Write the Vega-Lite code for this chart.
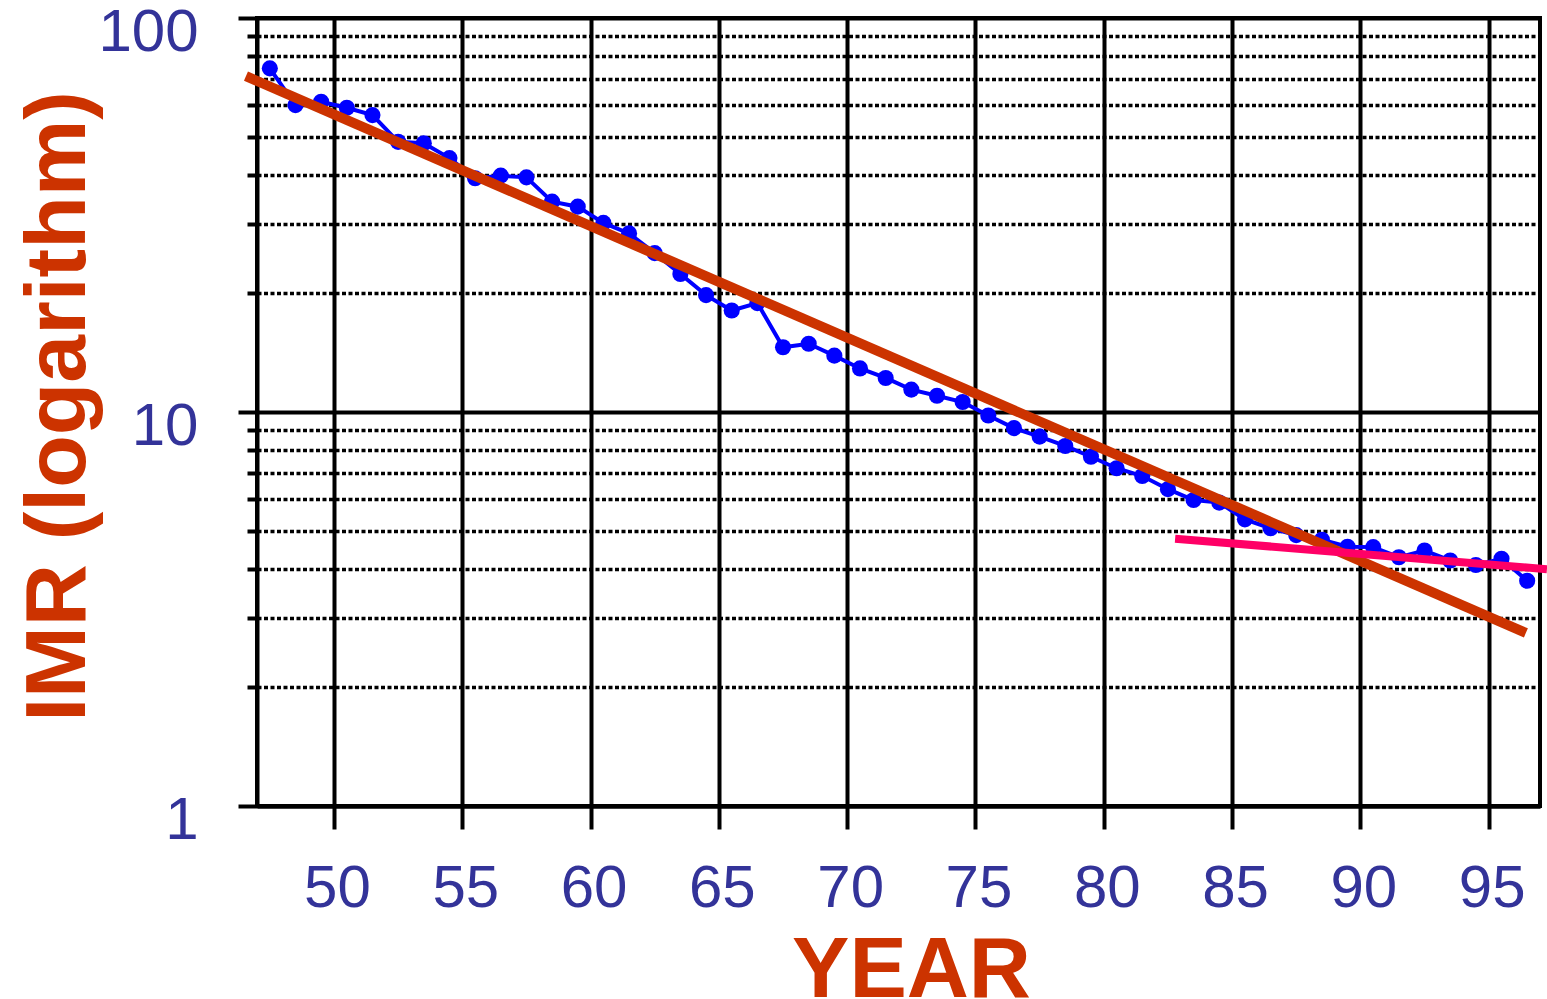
{
  "$schema": "https://vega.github.io/schema/vega-lite/v6.json",
  "width": 1283,
  "height": 788,
  "autosize": "none",
  "padding": {"left": 257, "top": 18, "right": 7, "bottom": 193},
  "background": "white",
  "config": {
    "view": {"stroke": "black", "strokeWidth": 4},
    "font": "Liberation Sans"
  },
  "datasets": {
    "imr": [
      {"year": 47.5, "imr": 74.5}, {"year": 48.5, "imr": 60.1}, {"year": 49.5, "imr": 61.3},
      {"year": 50.5, "imr": 59.2}, {"year": 51.5, "imr": 56.7}, {"year": 52.5, "imr": 48.5},
      {"year": 53.5, "imr": 48.1}, {"year": 54.5, "imr": 44.1}, {"year": 55.5, "imr": 39.2},
      {"year": 56.5, "imr": 39.8}, {"year": 57.5, "imr": 39.4}, {"year": 58.5, "imr": 34.2},
      {"year": 59.5, "imr": 33.2}, {"year": 60.5, "imr": 30.2}, {"year": 61.5, "imr": 28.4},
      {"year": 62.5, "imr": 25.3}, {"year": 63.5, "imr": 22.4}, {"year": 64.5, "imr": 19.8},
      {"year": 65.5, "imr": 18.1}, {"year": 66.5, "imr": 18.9}, {"year": 67.5, "imr": 14.6},
      {"year": 68.5, "imr": 14.9}, {"year": 69.5, "imr": 13.9}, {"year": 70.5, "imr": 12.9},
      {"year": 71.5, "imr": 12.2}, {"year": 72.5, "imr": 11.4}, {"year": 73.5, "imr": 11.0},
      {"year": 74.5, "imr": 10.6}, {"year": 75.5, "imr": 9.8}, {"year": 76.5, "imr": 9.1},
      {"year": 77.5, "imr": 8.66}, {"year": 78.5, "imr": 8.2}, {"year": 79.5, "imr": 7.7},
      {"year": 80.5, "imr": 7.2}, {"year": 81.5, "imr": 6.88}, {"year": 82.5, "imr": 6.37},
      {"year": 83.5, "imr": 5.98}, {"year": 84.5, "imr": 5.89}, {"year": 85.5, "imr": 5.34},
      {"year": 86.5, "imr": 5.07}, {"year": 87.5, "imr": 4.87}, {"year": 88.5, "imr": 4.74},
      {"year": 89.5, "imr": 4.55}, {"year": 90.5, "imr": 4.54}, {"year": 91.5, "imr": 4.28},
      {"year": 92.5, "imr": 4.45}, {"year": 93.5, "imr": 4.2}, {"year": 94.5, "imr": 4.09},
      {"year": 95.5, "imr": 4.24}, {"year": 96.5, "imr": 3.73}
    ],
    "trend": [
      {"year": 46.57, "imr": 71.2, "fit": "all"},
      {"year": 96.45, "imr": 2.75, "fit": "all"}
    ],
    "recent": [
      {"year": 82.78, "imr": 4.77, "fit": "recent"},
      {"year": 97.27, "imr": 3.99, "fit": "recent"}
    ]
  },
  "resolve": {"axis": {"y": "independent"}},
  "layer": [
    {
      "data": {"name": "imr"},
      "mark": {"type": "line", "color": "#0000FF", "strokeWidth": 4},
      "encoding": {
        "x": {
          "field": "year", "type": "quantitative",
          "scale": {"domain": [47, 97], "nice": false, "zero": false},
          "axis": {
            "values": [50, 55, 60, 65, 70, 75, 80, 85, 90, 95],
            "grid": true, "gridColor": "black", "gridWidth": 4, "gridOpacity": 1,
            "domain": true, "domainColor": "black", "domainWidth": 4,
            "ticks": true, "tickColor": "black", "tickWidth": 4, "tickSize": 23,
            "labelFont": "Liberation Sans", "labelFontSize": 60, "labelColor": "#333399",
            "labelPadding": 30, "labelOffset": 3,
            "title": "YEAR", "titleFont": "Liberation Sans", "titleFontSize": 86,
            "titleFontWeight": "bold", "titleColor": "#CC3300",
            "titleX": 654, "titleY": 190, "titleBaseline": "alphabetic", "titleAlign": "center"
          }
        },
        "y": {
          "field": "imr", "type": "quantitative",
          "scale": {"type": "log", "domain": [1, 100], "nice": false},
          "axis": {
            "orient": "left",
            "values": [2, 3, 4, 5, 6, 7, 8, 9, 20, 30, 40, 50, 60, 70, 80, 90],
            "grid": true, "gridColor": "black", "gridWidth": 3.5, "gridDash": [4, 2.5], "gridOpacity": 1,
            "domain": false, "labels": false, "title": null,
            "ticks": true, "tickColor": "black", "tickWidth": 4, "tickSize": 10
          }
        }
      }
    },
    {
      "data": {"name": "imr"},
      "mark": {"type": "point", "filled": true, "color": "#0000FF", "size": 260, "opacity": 1},
      "encoding": {
        "x": {"field": "year", "type": "quantitative"},
        "y": {
          "field": "imr", "type": "quantitative",
          "axis": {
            "orient": "left",
            "values": [1, 10, 100],
            "grid": true, "gridColor": "black", "gridWidth": 4, "gridOpacity": 1,
            "domain": true, "domainColor": "black", "domainWidth": 4,
            "ticks": true, "tickColor": "black", "tickWidth": 4, "tickSize": 19,
            "labelFont": "Liberation Sans", "labelFontSize": 60, "labelColor": "#333399",
            "labelPadding": 40, "labelOffset": 14, "labelBaseline": "middle",
            "labelExpr": "datum.value",
            "title": "IMR (logarithm)", "titleFont": "Liberation Sans", "titleFontSize": 86,
            "titleFontWeight": "bold", "titleColor": "#CC3300",
            "titleX": -173, "titleY": 388, "titleAngle": -90,
            "titleBaseline": "alphabetic", "titleAlign": "center"
          }
        }
      }
    },
    {
      "data": {"name": "trend"},
      "mark": {"type": "line", "color": "#CC3300", "strokeWidth": 10, "clip": false},
      "encoding": {
        "x": {"field": "year", "type": "quantitative"},
        "y": {"field": "imr", "type": "quantitative", "axis": null}
      }
    },
    {
      "data": {"name": "recent"},
      "mark": {"type": "line", "color": "#FF0066", "strokeWidth": 8, "clip": false},
      "encoding": {
        "x": {"field": "year", "type": "quantitative"},
        "y": {"field": "imr", "type": "quantitative", "axis": null}
      }
    }
  ]
}
